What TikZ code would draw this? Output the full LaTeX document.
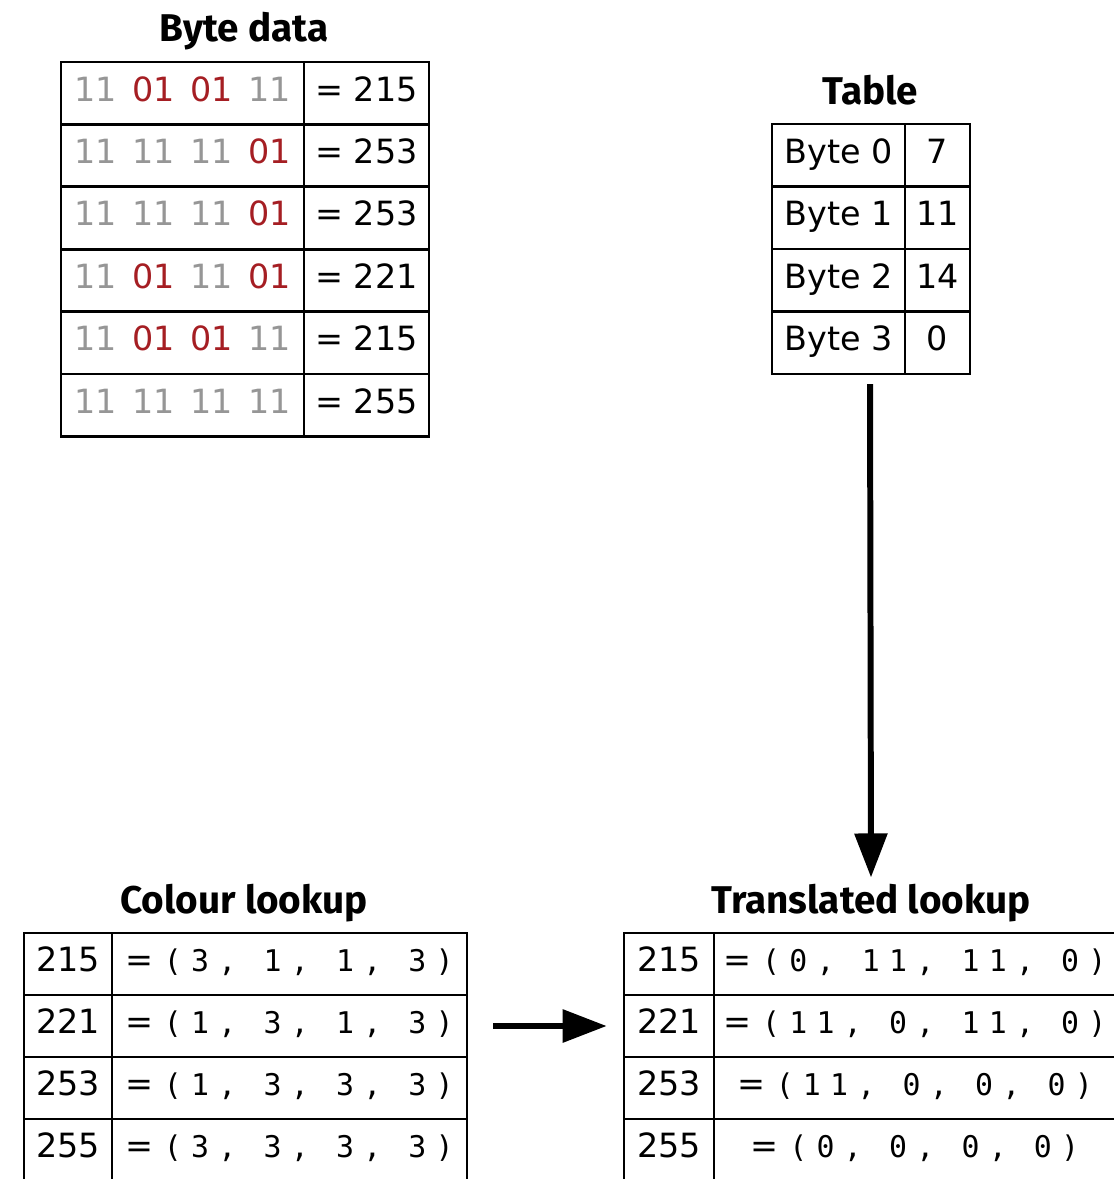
\documentclass[tikz,border=0pt]{standalone}
\usepackage{fontspec}
\setmainfont{DejaVu Sans}
\newfontfamily\titlefont{Fira Sans}
\newfontfamily\codefont[LetterSpace=31]{DejaVu Sans Mono}
\usetikzlibrary{arrows.meta}

\definecolor{bitgrey}{RGB}{150,150,150}
\definecolor{bitred}{RGB}{165,30,35}

\newcommand{\pairhi}{\textcolor{bitgrey}{11}}
\newcommand{\pairlo}{\textcolor{bitred}{01}}
\newcommand{\bitpairs}[4]{#1\hspace{.47em}#2\hspace{.47em}#3\hspace{.47em}#4}
\newcommand{\rgbtuple}[1]{= {\codefont\fontsize{17pt}{20pt}\selectfont(#1)}}

\begin{document}
\begin{tikzpicture}[x=0.02cm, y=-0.02cm,
    every node/.style={font=\fontsize{19pt}{23pt}\selectfont},
    cell/.style={draw, line width=1.5pt, inner sep=0pt, minimum height=1.245cm,
                 text height=14pt, text depth=5pt},
    title/.style={font=\titlefont\fontsize{22pt}{26pt}\selectfont\bfseries, anchor=base},
    flow/.style={line width=3.4pt, -{Triangle[length=0.88cm, width=0.64cm]}}]
    \useasboundingbox (0,0) rectangle (1114,1179);
    \clip (0,0) rectangle (1114,1179);

    % byte data
    \node[title] (bytetitle) at (244,42) {Byte data};
    \foreach \bits/\val [count=\i] in {%
        {\bitpairs\pairhi\pairlo\pairlo\pairhi}/215,
        {\bitpairs\pairhi\pairhi\pairhi\pairlo}/253,
        {\bitpairs\pairhi\pairhi\pairhi\pairlo}/253,
        {\bitpairs\pairhi\pairlo\pairhi\pairlo}/221,
        {\bitpairs\pairhi\pairlo\pairlo\pairhi}/215,
        {\bitpairs\pairhi\pairhi\pairhi\pairhi}/255} {
        \node[cell, minimum width=4.86cm] (byte-\i-l) at (182.5,30.8+62.4*\i) {\bits};
        \node[cell, minimum width=2.5cm] (byte-\i-r) at (366.5,30.8+62.4*\i) {= \val};
    }

    % table
    \node[title] (tabletitle) at (870,105) {Table};
    \foreach \val [count=\i from 0] in {7,11,14,0} {
        \node[cell, minimum width=2.66cm] (tab-\i-l) at (838.5,155.3+62.5*\i) {Byte \i};
        \node[cell, minimum width=1.3cm] (tab-\i-r) at (937.5,155.3+62.5*\i) {\val};
    }

    % colour lookup
    \node[title] (coltitle) at (244,913) {Colour lookup};
    \foreach \key/\rgb [count=\i] in {215/{3, 1, 1, 3}, 221/{1, 3, 1, 3},
                                      253/{1, 3, 3, 3}, 255/{3, 3, 3, 3}} {
        \node[cell, minimum width=1.76cm] (col-\i-l) at (68,902+62*\i) {\key};
        \node[cell, minimum width=7.1cm] (col-\i-r) at (289.5,902+62*\i) {\rgbtuple{\rgb}};
    }

    % translated lookup
    \node[title] (transtitle) at (871,913) {Translated lookup};
    \foreach \key/\rgb [count=\i] in {215/{0, 11, 11, 0}, 221/{11, 0, 11, 0},
                                      253/{11, 0, 0, 0}, 255/{0, 0, 0, 0}} {
        \node[cell, minimum width=1.8cm] (tr-\i-l) at (669,902+62*\i) {\key};
        \node[cell, minimum width=8.04cm] (tr-\i-r) at (915,902+62*\i) {\rgbtuple{\rgb}};
    }

    \draw[flow, shorten <=0.18cm] (tabletitle |- tab-3-l.south) -- (transtitle.north);
    \draw[flow, shorten <=0.5cm, shorten >=0.32cm] (col-2-r.east) -- (tr-2-l.west);
\end{tikzpicture}
\end{document}
